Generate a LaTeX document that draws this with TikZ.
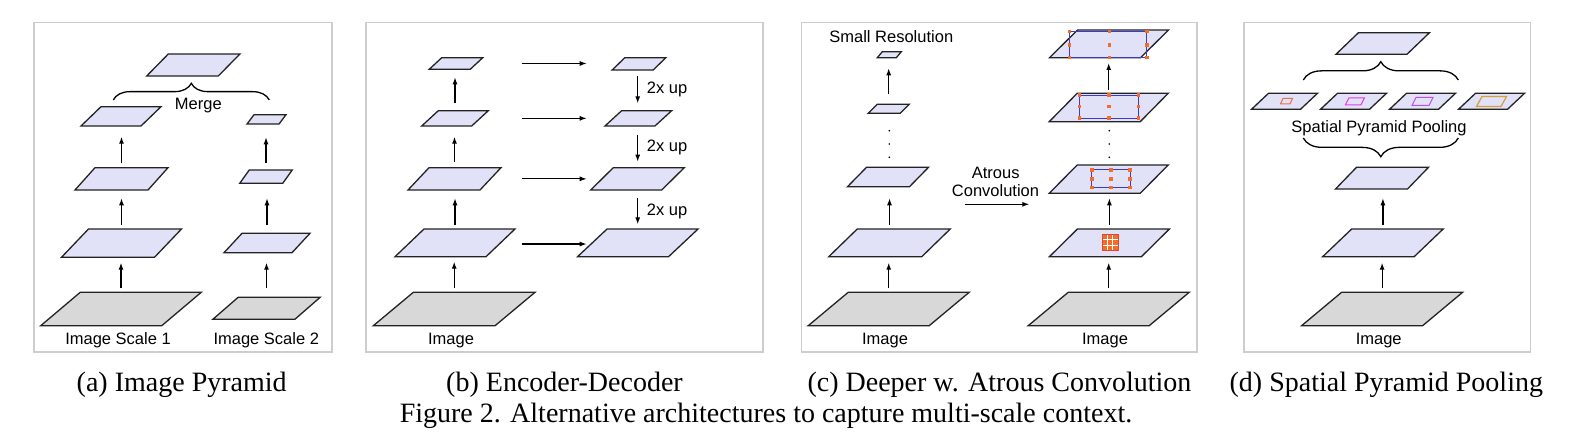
\documentclass[tikz,border=0pt]{standalone}
\usepackage{fontspec}
\setmainfont{Liberation Serif}
\setsansfont{Liberation Sans}
\usetikzlibrary{arrows.meta,calc,decorations.pathreplacing}

\definecolor{planefill}{RGB}{225,225,247}
\definecolor{imgfill}{RGB}{216,216,216}
\definecolor{edgecol}{RGB}{35,35,35}
\definecolor{framecol}{RGB}{205,205,205}
\definecolor{dotorange}{RGB}{242,110,40}
\definecolor{gridred}{RGB}{225,70,50}
\definecolor{rectblue}{RGB}{60,60,200}
\definecolor{poolA}{RGB}{235,110,80}
\definecolor{poolB}{RGB}{230,60,230}
\definecolor{poolC}{RGB}{190,80,240}
\definecolor{poolD}{RGB}{210,160,60}

\tikzset{
  planestyle/.style={draw=edgecol, line width=1.3pt, line join=miter},
  arr/.style={draw=black, line width=1.2pt, -{Latex[length=7pt,width=5pt]}},
  framestyle/.style={draw=framecol, line width=1.3pt},
  lbl/.style={font=\sffamily\fontsize{16.5}{19}\selectfont, inner sep=0pt, anchor=base},
  captext/.style={font=\rmfamily\fontsize{28}{32}\selectfont, inner sep=0pt, anchor=base},
  bracestyle/.style={draw=black, line width=1.3pt, decorate},
  bluerect/.style={draw=rectblue, line width=0.9pt},
}

% #1 fill, #2 name, #3 cx, #4 y bottom, #5 width, #6 skew, #7 y top
\newcommand\drawplane[7][planefill]{%
  \draw[planestyle, fill=#1] ({#3-#5/2-#6/2},#4) -- ({#3+#5/2-#6/2},#4)
     -- ({#3+#5/2+#6/2},#7) -- ({#3-#5/2+#6/2},#7) -- cycle;
  \coordinate (#2-b) at (#3,#4);
  \coordinate (#2-t) at (#3,#7);
  \coordinate (#2-c) at ({#3},{(#4+#7)/2});
}
% upward arrow from plane #1 to plane #2, gaps #3 and #4
\newcommand\uparr[4]{\draw[arr] ($(#1-t)+(0,-#3)$) -- ($(#1-t |- #2-b)+(0,#4)$);}
% 3x3 orange dots
\newcommand\dotgrid[6]{%
  \foreach \dx in {#1,#2,#3}{\foreach \dy in {#4,#5,#6}{%
    \fill[dotorange] ($(\dx,\dy)+(-1.8,-1.8)$) rectangle ($(\dx,\dy)+(1.8,1.8)$);}}}

\begin{document}
\begin{tikzpicture}[x=1pt,y=-1pt]
\useasboundingbox (0,0) rectangle (1578,435);
\fill[white] (0,0) rectangle (1578,435);

% ---------- frames ----------
\draw[framestyle] (34,22.5) rectangle (332,352);
\draw[framestyle] (366,22.5) rectangle (763,352);
\draw[framestyle] (801.7,22.5) rectangle (1197,352);
\draw[framestyle] (1244,22.5) rectangle (1530.7,352);

% ---------- (a) Image Pyramid ----------
\drawplane[imgfill]{aI}{121}{325.7}{121}{39.5}{292.3}
\drawplane{aL1}{121.5}{257.3}{93}{27}{229}
\drawplane{aL2}{121.5}{190}{73}{20}{167.7}
\drawplane{aL3}{121}{126}{60}{20}{106.7}
\drawplane{aM}{193.3}{76}{71.6}{21.6}{54}
\drawplane[imgfill]{aJ}{266.5}{319.3}{82}{25.3}{297.3}
\drawplane{aK1}{267}{252.7}{68}{18}{233.3}
\drawplane{aK2}{266}{183.3}{43}{9.5}{170}
\drawplane{aK3}{266.5}{124}{32}{7}{114.7}
\uparr{aI}{aL1}{4}{5.4}
\uparr{aL1}{aL2}{4}{8.3}
\uparr{aL2}{aL3}{4.4}{10.7}
\uparr{aJ}{aK1}{9}{10}
\uparr{aK1}{aK2}{8.3}{15}
\uparr{aK2}{aK3}{6.7}{13.3}
\coordinate (abL) at (113.3,100);
\coordinate (abR) at (269.3,100);
\draw[bracestyle, decoration={brace, amplitude=16.7pt}] (abL) -- (abR);
\node[lbl] (merge) at (198.3,110) {Merge};
\node[lbl] (as1) at (118,344.5) {Image Scale 1};
\node[lbl] (as2) at (266.3,344.5) {Image Scale 2};

% ---------- (b) Encoder-Decoder ----------
\drawplane[imgfill]{bI}{454.2}{325.7}{121.7}{40}{292.3}
\drawplane{bL1}{455}{256.7}{91}{29}{229}
\drawplane{bL2}{454.5}{190}{72}{21}{167.7}
\drawplane{bL3}{455}{126}{50}{16.6}{110.7}
\drawplane{bL4}{456}{69.3}{41}{12.5}{57.7}
\drawplane{bR4}{639}{70}{41}{12.7}{57.7}
\drawplane{bR3}{638.3}{126}{50}{16.7}{110.7}
\drawplane{bR2}{637.5}{190}{71}{22.5}{167.7}
\drawplane{bR1}{637.8}{256.7}{91}{29.5}{229}
\uparr{bI}{bL1}{4}{5}
\uparr{bL1}{bL2}{4}{8.3}
\uparr{bL2}{bL3}{6}{10.7}
\uparr{bL3}{bL4}{7.4}{8}
\coordinate (hs) at (521.7,0);
\coordinate (he) at (586.7,0);
\draw[arr] (bL4-c -| hs) -- (bL4-c -| he);
\draw[arr] (bL3-c -| hs) -- (bL3-c -| he);
\draw[arr] (bL2-c -| hs) -- (bL2-c -| he);
\draw[arr] ($(bL1-c -| hs)+(0,1.2)$) -- ($(bL1-c -| he)+(0,1.2)$);
\coordinate (dx) at (637.7,0);
\draw[arr] ($(bR4-b -| dx)+(0,6)$) -- ($(bR3-t -| dx)+(0,-7.4)$);
\draw[arr] ($(bR3-b -| dx)+(0,9)$) -- ($(bR2-t -| dx)+(0,-6)$);
\draw[arr] ($(bR2-b -| dx)+(0,8.3)$) -- ($(bR1-t -| dx)+(0,-4.7)$);
\node[lbl, anchor=base west] (up1) at (646.7,93.3) {2x up};
\node[lbl, anchor=base west] (up2) at (646.7,151.7) {2x up};
\node[lbl, anchor=base west] (up3) at (646.7,215.7) {2x up};
\node[lbl] (bimg) at (451,344.5) {Image};

% ---------- (c) Deeper w. Atrous Convolution ----------
\drawplane[imgfill]{cI}{888.7}{325.7}{121}{40}{292.3}
\drawplane{cL1}{889.5}{256.7}{93}{28.5}{229}
\drawplane{cL2}{888}{186.7}{62}{19}{167.3}
\drawplane{cL3}{888.7}{113.3}{32}{9}{104.3}
\drawplane{cL4}{889.3}{57.7}{19}{5}{51.7}
\uparr{cI}{cL1}{4}{6}
\uparr{cL1}{cL2}{4}{11.6}
\uparr{cL3}{cL4}{10.3}{10.6}
\foreach \yy in {130.7,144,157.3} \fill (889.3,\yy) circle (0.9);
\node[lbl] (smallres) at (891.3,42.3) {Small Resolution};

\drawplane[imgfill]{dI}{1108.7}{325.7}{121}{40}{292.3}
\drawplane{dL1}{1109.4}{256.7}{92}{28}{229}
\drawplane{dL2}{1108.7}{193.3}{91}{28}{165}
\drawplane{dL3}{1108.7}{121.7}{91}{28}{93.3}
\drawplane{dL4}{1109}{57.7}{91}{28}{30}
\uparr{dI}{dL1}{4}{6}
\uparr{dL1}{dL2}{4}{5}
\uparr{dL3}{dL4}{3.3}{5.3}
\foreach \yy in {130.7,144,157.3} \fill (1109.3,\yy) circle (0.9);
% kernel patterns
\fill[dotorange] (1102,234.3) rectangle (1118,250.3);
\draw[white, line width=0.9pt] (1107.33,234.3) -- (1107.33,250.3) (1112.67,234.3) -- (1112.67,250.3)
   (1102,239.63) -- (1118,239.63) (1102,244.97) -- (1118,244.97);
\draw[gridred, line width=0.8pt] (1102,234.3) rectangle (1118,250.3);
\draw[bluerect] (1091.7,169.6) rectangle (1130,187.7);
\dotgrid{1092}{1111}{1130}{170}{179}{187.7}
\draw[bluerect] (1079.3,95) rectangle (1138.3,118.3);
\dotgrid{1079.3}{1109}{1138.3}{95}{106.7}{118.3}
\draw[bluerect] (1069.3,31) rectangle (1146.7,57.7);
\dotgrid{1069.3}{1109.3}{1146.7}{31.7}{45}{57.7}
\node[lbl] (atr1) at (995.7,178.3) {Atrous};
\node[lbl] (atr2) at (995.5,196.7) {Convolution};
\coordinate (ats) at (965,204.3);
\coordinate (ate) at (1029.3,204.3);
\draw[arr] (ats) -- (ate);
\node[lbl] (cimg1) at (885,344.5) {Image};
\node[lbl] (cimg2) at (1105,344.5) {Image};

% ---------- (d) Spatial Pyramid Pooling ----------
\drawplane[imgfill]{eI}{1382.1}{325.7}{121}{40}{292.3}
\drawplane{eL1}{1382.9}{256.7}{91.5}{29}{229}
\drawplane{eL2}{1382}{189}{72}{21}{167.3}
\drawplane{eT}{1382.7}{54.3}{71}{22.5}{32.7}
\drawplane{eP1}{1284.5}{109.3}{49}{17}{93.3}
\drawplane{eP2}{1353.5}{109.3}{49}{17}{93.3}
\drawplane{eP3}{1422.5}{109.3}{49}{17}{93.3}
\drawplane{eP4}{1491.5}{109.3}{49}{17}{93.3}
\draw[poolA, line width=1pt] (1280.5,103.8) -- (1290,103.8) -- (1292.5,98.5) -- (1283,98.5) -- cycle;
\draw[poolB, line width=1pt] (1345.5,104.8) -- (1361,104.8) -- (1364.5,97.8) -- (1349,97.8) -- cycle;
\draw[poolC, line width=1pt] (1412,105.5) -- (1429,105.5) -- (1433,97.5) -- (1416,97.5) -- cycle;
\draw[poolD, line width=1.2pt] (1476.5,106.5) -- (1501,106.5) -- (1506.5,96.5) -- (1482,96.5) -- cycle;
\uparr{eI}{eL1}{4}{6}
\uparr{eL1}{eL2}{4}{9.3}
\coordinate (ebL) at (1303.3,80);
\coordinate (ebR) at (1458.3,80);
\draw[bracestyle, decoration={brace, amplitude=18.3pt}] (ebL) -- (ebR);
\coordinate (fbL) at (1303.3,138);
\coordinate (fbR) at (1458.3,138);
\draw[bracestyle, decoration={brace, amplitude=18.7pt}] (fbR) -- (fbL);
\node[lbl] (spp) at (1379,132.7) {Spatial Pyramid Pooling};
\node[lbl] (eimg) at (1378.7,344.5) {Image};

% ---------- captions ----------
\node[captext] (capa) at (181.7,391) {(a) Image Pyramid};
\node[captext] (capb) at (564.5,391) {(b) Encoder-Decoder};
\node[captext] (capc) at (999.5,391) {(c) Deeper w. Atrous Convolution};
\node[captext] (capd) at (1386.3,391) {(d) Spatial Pyramid Pooling};
\node[captext] (figcap) at (766,422.7) {Figure 2. Alternative architectures to capture multi-scale context.};
\end{tikzpicture}
\end{document}
